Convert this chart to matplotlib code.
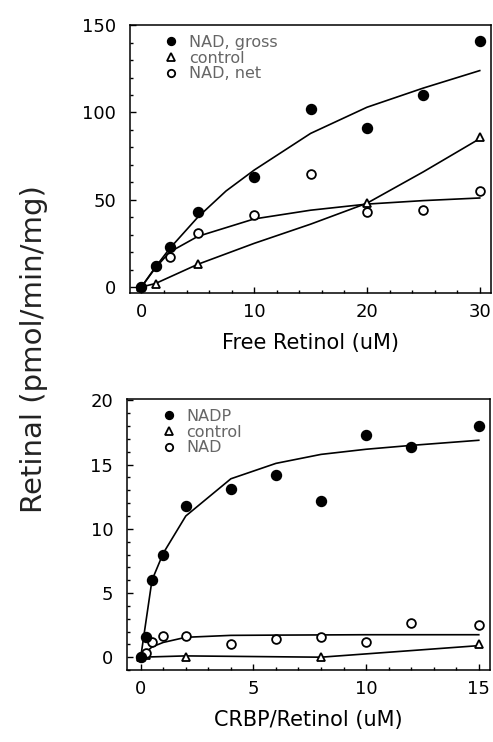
import matplotlib
matplotlib.use('agg')
import matplotlib.pyplot as plt
from matplotlib.ticker import MultipleLocator
from matplotlib.lines import Line2D

# top panel: free retinol
free_x = [0, 1.25, 2.5, 5, 10, 15, 20, 25, 30]
nad_gross = [0, 12, 23, 43, 63, 102, 91, 110, 141]
ctrl_x = [0, 1.25, 5, 20, 30]
ctrl = [0, 1.5, 13, 48, 86]
net_x = [0, 1.25, 2.5, 5, 10, 15, 20, 25, 30]
nad_net = [0, 12, 17, 31, 41, 65, 43, 44, 55]

# fitted curves
gross_fit_x = [0, 1.25, 2.5, 5, 7.5, 10, 15, 20, 25, 30]
gross_fit = [0, 11.5, 22, 40, 55, 67, 88, 103, 114, 124]
ctrl_fit_x = [0, 1.25, 5, 10, 15, 20, 25, 30]
ctrl_fit = [0, 2, 13, 25, 36, 48, 66, 85]
net_fit_x = [0, 1.25, 2.5, 5, 10, 15, 20, 25, 30]
net_fit = [0, 11, 20, 29, 39, 44, 47.5, 49.5, 51]

# bottom panel: CRBP/retinol
crbp_x = [0, 0.25, 0.5, 1, 2, 4, 6, 8, 10, 12, 15]
nadp = [0, 1.6, 6, 8, 11.8, 13.1, 14.2, 12.2, 17.3, 16.4, 18]
ctrl2_x = [0, 0.25, 2, 8, 15]
ctrl2 = [0, 0.2, 0, 0, 1.0]
nad2_x = [0, 0.25, 0.5, 1, 2, 4, 6, 8, 10, 12, 15]
nad2 = [0, 0.3, 1.2, 1.65, 1.65, 1.0, 1.4, 1.6, 1.2, 2.7, 2.5]

nadp_fit_x = [0, 0.5, 1, 2, 4, 6, 8, 10, 12, 15]
nadp_fit = [0, 6, 8.1, 11, 13.9, 15.1, 15.8, 16.2, 16.5, 16.9]
ctrl2_fit_x = [0, 2, 8, 15]
ctrl2_fit = [0, 0.1, 0, 0.9]
nad2_fit_x = [0, 0.5, 1, 2, 4, 6, 10, 15]
nad2_fit = [0, 0.8, 1.15, 1.55, 1.7, 1.72, 1.75, 1.75]

plt.rcParams['font.family'] = ['DejaVu Sans']

fig = plt.figure(figsize=(4.93, 7.42), dpi=100)
ax1 = fig.add_axes([0.264, 0.605, 0.732, 0.361])
ax2 = fig.add_axes([0.258, 0.097, 0.736, 0.365])

ms_f = 7.2
ms_o = 6.3


def style_axis(ax):
    for s in ax.spines.values():
        s.set_linewidth(1.1)
    ax.tick_params(which='both', direction='in', top=False, right=False,
                   labelsize=13, width=1)
    ax.tick_params(which='major', length=4.5)
    ax.tick_params(which='minor', length=2.2)
    ax.tick_params(axis='x', pad=7)
    ax.tick_params(axis='y', pad=10)


def legend(ax, labels):
    handles = [
        Line2D([], [], ls='none', marker='o', color='k', ms=ms_f - 1.5),
        Line2D([], [], ls='none', marker='^', mfc='white', mec='k', ms=ms_o - 1, mew=1.3),
        Line2D([], [], ls='none', marker='o', mfc='white', mec='k', ms=ms_o - 1, mew=1.3),
    ]
    leg = ax.legend(handles, labels, loc='upper left', bbox_to_anchor=(0.07, 1.0),
                    frameon=False, handlelength=0.8, handletextpad=0.7,
                    labelspacing=0.05, borderaxespad=0.2, fontsize=11.5)
    for t in leg.get_texts():
        t.set_color('#666666')


# top
ax1.plot(gross_fit_x, gross_fit, color='k', lw=1.2)
ax1.plot(ctrl_fit_x, ctrl_fit, color='k', lw=1.2)
ax1.plot(net_fit_x, net_fit, color='k', lw=1.2)
ax1.plot(ctrl_x, ctrl, ls='none', marker='^', mfc='white', mec='k', ms=ms_o, mew=1.3)
ax1.plot(net_x, nad_net, ls='none', marker='o', mfc='white', mec='k', ms=ms_o, mew=1.3)
ax1.plot(free_x, nad_gross, ls='none', marker='o', color='k', ms=ms_f)
ax1.set_xlim(-1, 31)
ax1.set_ylim(-3.5, 150)
ax1.xaxis.set_major_locator(MultipleLocator(10))
ax1.xaxis.set_minor_locator(MultipleLocator(2))
ax1.yaxis.set_major_locator(MultipleLocator(50))
ax1.yaxis.set_minor_locator(MultipleLocator(10))
ax1.set_xlabel('Free Retinol (uM)', fontsize=15, labelpad=9)
style_axis(ax1)
legend(ax1, ['NAD, gross', 'control', 'NAD, net'])

# bottom
ax2.plot(nadp_fit_x, nadp_fit, color='k', lw=1.2)
ax2.plot(ctrl2_fit_x, ctrl2_fit, color='k', lw=1.2)
ax2.plot(nad2_fit_x, nad2_fit, color='k', lw=1.2)
ax2.plot(ctrl2_x, ctrl2, ls='none', marker='^', mfc='white', mec='k', ms=ms_o, mew=1.3)
ax2.plot(nad2_x, nad2, ls='none', marker='o', mfc='white', mec='k', ms=ms_o, mew=1.3)
ax2.plot(crbp_x, nadp, ls='none', marker='o', color='k', ms=ms_f)
ax2.set_xlim(-0.6, 15.5)
ax2.set_ylim(-1, 20.1)
ax2.xaxis.set_major_locator(MultipleLocator(5))
ax2.xaxis.set_minor_locator(MultipleLocator(1))
ax2.yaxis.set_major_locator(MultipleLocator(5))
ax2.yaxis.set_minor_locator(MultipleLocator(1))
ax2.set_xlabel('CRBP/Retinol (uM)', fontsize=15, labelpad=9)
style_axis(ax2)
legend(ax2, ['NADP', 'control', 'NAD'])

fig.text(0.068, 0.53, 'Retinal (pmol/min/mg)', rotation=90, fontsize=21,
         ha='center', va='center', color='#222222')

fig.savefig('out.png', dpi=100)
